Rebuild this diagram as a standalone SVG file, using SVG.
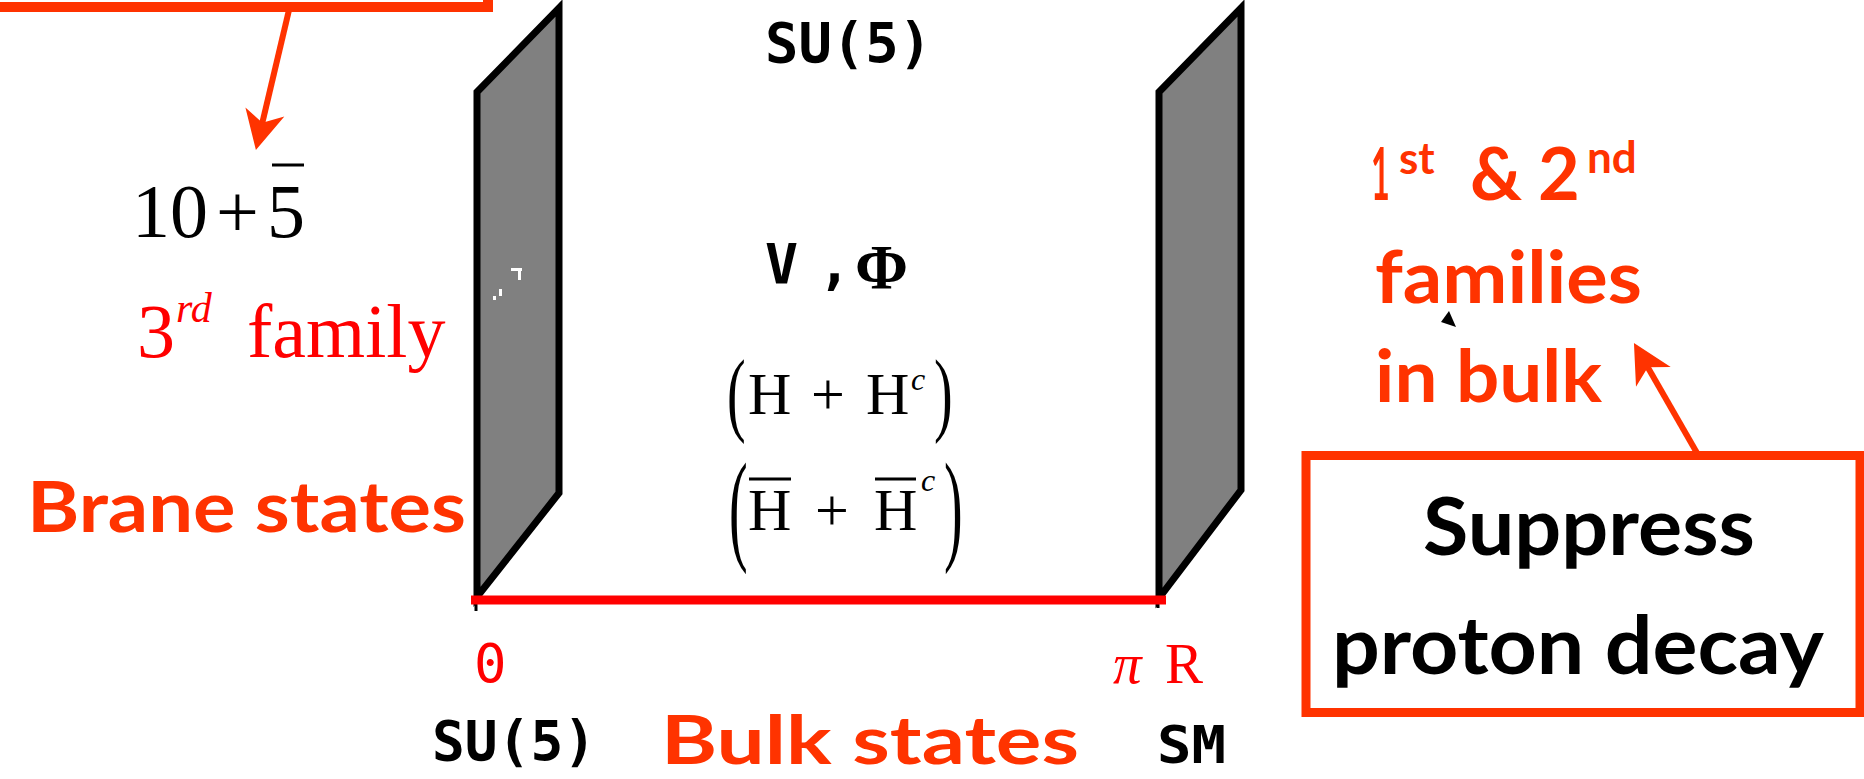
<svg xmlns="http://www.w3.org/2000/svg" width="1864" height="779" viewBox="0 0 1864 779">
<defs>
<style>
.hand{font-family:Lato,"Noto Sans","DejaVu Sans",sans-serif;font-weight:bold;fill:#FF3300}
.handk{font-family:Lato,"Noto Sans","DejaVu Sans",sans-serif;font-weight:bold;fill:#000}
.mono{font-family:"DejaVu Sans Mono","Liberation Mono",monospace;font-weight:bold;fill:#000}
.mono0{font-family:"DejaVu Sans Mono","Liberation Mono",monospace;font-weight:normal;fill:#FF0000}
.serif{font-family:"Liberation Serif","Times New Roman",serif;fill:#000}
.serifb{font-family:"Liberation Serif","Times New Roman",serif;font-weight:bold;fill:#000}
.red{fill:#FF0000}
.brane{fill:#808080;stroke:#000;stroke-width:7;stroke-linejoin:miter}
.bar{stroke:#000;stroke-width:3}
.box{fill:#fff;stroke:#FF3300;stroke-width:9}
.conn{fill:none;stroke:#FF3300;stroke-width:6}
</style>
<marker id="ah" markerUnits="userSpaceOnUse" markerWidth="60" markerHeight="60" refX="0" refY="0" orient="auto" overflow="visible">
<path d="M20,0 L-19,-20 L-8,0 L-19,20 Z" fill="#FF3300"/>
</marker>
</defs>
<rect width="1864" height="779" fill="#fff"/>

<g id="top-box">
<rect x="-20" y="-30" width="508" height="37" fill="none" stroke="#FF3300" stroke-width="10"/>
</g>

<g id="brane-left">
<polygon class="brane" points="477,92 559,8 559,493 477,597"/>
<line x1="476" y1="597" x2="476" y2="611" stroke="#000" stroke-width="3"/>
<rect x="511" y="268" width="11" height="3" fill="#fff"/>
<rect x="518" y="271" width="3" height="9" fill="#fff"/>
<rect x="499" y="289" width="3" height="7" fill="#fff"/>
<rect x="493" y="296" width="3" height="4" fill="#fff"/>
</g>

<g id="brane-right">
<polygon class="brane" points="1159,92 1241,8 1241,490 1159,598"/>
<line x1="1158" y1="598" x2="1158" y2="608" stroke="#000" stroke-width="3"/>
</g>

<g id="bulk-line">
<line x1="471" y1="600" x2="1166" y2="600" stroke="#FF0000" stroke-width="9"/>
</g>

<g id="brane-content">
<text class="serif" font-size="76" x="132" y="237">10</text>
<text class="serif" font-size="76" x="216" y="237">+</text>
<text class="serif" font-size="76" x="267" y="237">5</text>
<line class="bar" x1="272" y1="165" x2="304" y2="165"/>
<text class="serif red" font-size="76" y="357"><tspan x="137">3</tspan><tspan x="176" y="322" font-size="42" font-style="italic">rd</tspan><tspan x="247" y="357">family</tspan></text>
</g>

<g id="label-brane-states">
<text class="hand" font-size="70" x="27" y="532" textLength="439" lengthAdjust="spacingAndGlyphs">Brane states</text>
</g>

<g id="bulk-content">
<text class="mono" font-size="55" x="765" y="62" textLength="167" lengthAdjust="spacingAndGlyphs">SU(5)</text>
<text y="283"><tspan class="mono" font-size="55" x="765">V</tspan><tspan class="mono" font-size="55" x="818">,</tspan><tspan class="serifb" font-size="64" x="855" y="289">Φ</tspan></text>
<g id="row1">
<text class="serif" font-size="56" transform="translate(727,424) scale(1,1.68)">(</text>
<text class="serif" font-size="60" x="748" y="414">H</text>
<text class="serif" font-size="60" x="811" y="414">+</text>
<text class="serif" font-size="60" x="866" y="414">H</text>
<text class="serif" font-size="32" font-style="italic" x="911" y="390">c</text>
<text class="serif" font-size="56" transform="translate(934,424) scale(1,1.68)">)</text>
</g>
<g id="row2">
<text class="serif" font-size="56" transform="translate(729,548) scale(1,2.2)">(</text>
<text class="serif" font-size="60" x="748" y="530">H</text>
<line class="bar" x1="749" y1="479" x2="791" y2="479"/>
<text class="serif" font-size="60" x="815" y="530">+</text>
<text class="serif" font-size="60" x="874" y="530">H</text>
<line class="bar" x1="875" y1="479" x2="916" y2="479"/>
<text class="serif" font-size="32" font-style="italic" x="921" y="491">c</text>
<text class="serif" font-size="56" transform="translate(944,548) scale(1,2.2)">)</text>
</g>
</g>

<g id="axis-labels">
<text class="mono0" font-size="54" x="474" y="682">0</text>
<text class="serif red" font-size="57" y="683"><tspan x="1113" font-style="italic">π</tspan><tspan x="1165">R</tspan></text>
<text class="mono" font-size="55" x="432" y="760" textLength="164" lengthAdjust="spacingAndGlyphs">SU(5)</text>
<text class="mono" font-size="52" x="1157" y="763" textLength="69" lengthAdjust="spacingAndGlyphs">SM</text>
</g>

<g id="label-bulk-states">
<text class="hand" font-size="66" x="661" y="764" textLength="418" lengthAdjust="spacingAndGlyphs">Bulk states</text>
</g>

<g id="label-families">
<text class="hand" font-size="72" transform="translate(1371,200) scale(0.45,1)">1</text>
<text class="hand" font-size="44" x="1399" y="174">st</text>
<text class="hand" font-size="72" x="1470" y="200">&amp;</text>
<text class="hand" font-size="72" x="1538" y="200">2</text>
<text class="hand" font-size="44" x="1587" y="173">nd</text>
<text class="hand" font-size="72" x="1375" y="303" textLength="267" lengthAdjust="spacingAndGlyphs">families</text>
<text class="hand" font-size="72" x="1375" y="402" textLength="227" lengthAdjust="spacingAndGlyphs">in bulk</text>
<polygon points="1449,311 1441,322 1456,327" fill="#000"/>
</g>

<g id="suppress-box">
<rect class="box" x="1306" y="455.5" width="554" height="257"/>
<text class="handk" font-size="80" x="1423" y="555" textLength="332" lengthAdjust="spacingAndGlyphs">Suppress</text>
<text class="handk" font-size="80" x="1332" y="674" textLength="492" lengthAdjust="spacingAndGlyphs">proton decay</text>
</g>

<g id="connectors">
<path class="conn" d="M289,10 L260.5,130.5" marker-end="url(#ah)"/>
<path class="conn" d="M1697,453 L1643.9,360.4" marker-end="url(#ah)"/>
</g>
</svg>
